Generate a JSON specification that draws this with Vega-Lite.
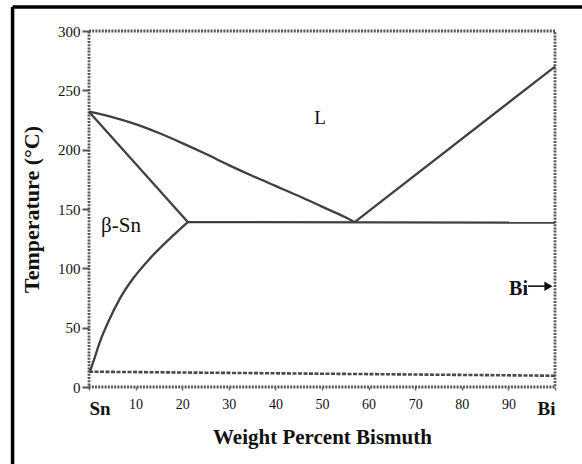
{
  "$schema": "https://vega.github.io/schema/vega-lite/v6.json",
  "width": 466,
  "height": 356,
  "autosize": {"type": "none"},
  "padding": {"left": 89, "top": 31, "right": 27, "bottom": 77},
  "background": "white",
  "config": {
    "view": {"stroke": "#555555", "strokeWidth": 2.8, "strokeDash": [2, 1.2]},
    "font": "Liberation Serif"
  },
  "datasets": {
    "curves": [
      {"series": "liquidus_left", "i": 0, "wt": 0, "T": 232},
      {"series": "liquidus_left", "i": 1, "wt": 5, "T": 227.5},
      {"series": "liquidus_left", "i": 2, "wt": 10, "T": 221.5},
      {"series": "liquidus_left", "i": 3, "wt": 15, "T": 214},
      {"series": "liquidus_left", "i": 4, "wt": 20, "T": 205.5},
      {"series": "liquidus_left", "i": 5, "wt": 25, "T": 196.5},
      {"series": "liquidus_left", "i": 6, "wt": 30, "T": 187},
      {"series": "liquidus_left", "i": 7, "wt": 35, "T": 178},
      {"series": "liquidus_left", "i": 8, "wt": 40, "T": 169.5},
      {"series": "liquidus_left", "i": 9, "wt": 45, "T": 161},
      {"series": "liquidus_left", "i": 10, "wt": 50, "T": 152},
      {"series": "liquidus_left", "i": 11, "wt": 55, "T": 143},
      {"series": "liquidus_left", "i": 12, "wt": 57, "T": 139},
      {"series": "liquidus_right", "i": 0, "wt": 57, "T": 139},
      {"series": "liquidus_right", "i": 1, "wt": 100, "T": 270},
      {"series": "solidus", "i": 0, "wt": 0, "T": 232},
      {"series": "solidus", "i": 1, "wt": 21.2, "T": 139},
      {"series": "eutectic", "i": 0, "wt": 21.2, "T": 139},
      {"series": "eutectic", "i": 1, "wt": 100, "T": 138.5},
      {"series": "solvus", "i": 0, "wt": 0.2, "T": 12.9},
      {"series": "solvus", "i": 1, "wt": 0.93, "T": 21.3},
      {"series": "solvus", "i": 2, "wt": 2.36, "T": 38.2},
      {"series": "solvus", "i": 3, "wt": 4.15, "T": 55},
      {"series": "solvus", "i": 4, "wt": 6.65, "T": 74.7},
      {"series": "solvus", "i": 5, "wt": 9.5, "T": 91.6},
      {"series": "solvus", "i": 6, "wt": 13.1, "T": 108.4},
      {"series": "solvus", "i": 7, "wt": 17.4, "T": 125.3},
      {"series": "solvus", "i": 8, "wt": 21.2, "T": 139}
    ],
    "dashed": [
      {"wt": 0, "T": 12.9},
      {"wt": 100, "T": 9.5}
    ],
    "labels": [
      {"wt": 49.6, "T": 226.6, "text": "L", "pos": "center"},
      {"wt": 2.6, "T": 135.6, "text": "β-Sn", "pos": "left"},
      {"wt": 94.2, "T": 83, "text": "Bi", "pos": "right"}
    ],
    "arrow": [
      {"wt": 94.2, "wt2": 98.6, "T": 85}
    ],
    "arrowhead": [
      {"wt": 98.6, "T": 85}
    ],
    "frame": [
      {"wt": -16.4, "wt2": -16.4, "T": 320.2, "T2": -80},
      {"wt": -16.4, "wt2": 112, "T": 320.2, "T2": 320.2}
    ]
  },
  "encoding": {
    "x": {
      "field": "wt", "type": "quantitative",
      "scale": {"domain": [0, 100], "nice": false, "zero": false},
      "axis": {
        "title": "Weight Percent Bismuth",
        "values": [0, 10, 20, 30, 40, 50, 60, 70, 80, 90, 100],
        "labelExpr": "datum.value == 0 ? 'Sn' : datum.value == 100 ? 'Bi' : datum.label",
        "domain": false, "grid": false,
        "tickSize": 3, "tickWidth": 1.5, "tickColor": "#666",
        "labelPadding": {"condition": {"test": "datum.value == 0 || datum.value == 100", "value": 9}, "value": 7},
        "labelFont": "Liberation Serif",
        "labelFontSize": {"condition": {"test": "datum.value == 0 || datum.value == 100", "value": 19}, "value": 14},
        "labelFontWeight": {"condition": {"test": "datum.value == 0 || datum.value == 100", "value": "bold"}, "value": "normal"},
        "labelColor": "#111",
        "titleFont": "Liberation Serif", "titleFontSize": 21, "titleFontWeight": "bold",
        "titleColor": "#111", "titlePadding": 8
      }
    },
    "y": {
      "field": "T", "type": "quantitative",
      "scale": {"domain": [0, 300], "nice": false, "zero": false},
      "axis": {
        "title": "Temperature (°C)",
        "values": [0, 50, 100, 150, 200, 250, 300],
        "domain": false, "grid": false,
        "tickSize": 7, "tickWidth": 2, "tickColor": "#555",
        "labelPadding": 2,
        "labelFont": "Liberation Serif", "labelFontSize": 15, "labelColor": "#111",
        "titleFont": "Liberation Serif", "titleFontSize": 22, "titleFontWeight": "bold",
        "titleColor": "#111", "titlePadding": 14
      }
    }
  },
  "layer": [
    {
      "data": {"name": "curves"},
      "mark": {"type": "line", "color": "#404040", "strokeWidth": 2.3, "interpolate": "monotone"},
      "encoding": {
        "detail": {"field": "series"},
        "order": {"field": "i", "type": "quantitative"}
      }
    },
    {
      "data": {"name": "dashed"},
      "mark": {"type": "line", "color": "#4a4a4a", "strokeWidth": 2.6, "strokeDash": [4, 1.5]},
      "encoding": {}
    },
    {
      "data": {"name": "labels"},
      "transform": [{"filter": "datum.pos == 'center'"}],
      "mark": {"type": "text", "font": "Liberation Serif", "fontSize": 19, "color": "#111", "baseline": "middle", "align": "center"},
      "encoding": {"text": {"field": "text"}}
    },
    {
      "data": {"name": "labels"},
      "transform": [{"filter": "datum.pos == 'left'"}],
      "mark": {"type": "text", "font": "Liberation Serif", "fontSize": 21, "color": "#111", "baseline": "middle", "align": "left"},
      "encoding": {"text": {"field": "text"}}
    },
    {
      "data": {"name": "labels"},
      "transform": [{"filter": "datum.pos == 'right'"}],
      "mark": {"type": "text", "font": "Liberation Serif", "fontSize": 20, "fontWeight": "bold", "color": "#111", "baseline": "middle", "align": "right"},
      "encoding": {"text": {"field": "text"}}
    },
    {
      "data": {"name": "arrow"},
      "mark": {"type": "rule", "color": "#111", "strokeWidth": 1.6},
      "encoding": {"x2": {"field": "wt2"}}
    },
    {
      "data": {"name": "arrowhead"},
      "mark": {"type": "point", "shape": "triangle-right", "filled": true, "color": "#111", "size": 90, "opacity": 1},
      "encoding": {}
    },
    {
      "data": {"name": "frame"},
      "mark": {"type": "rule", "color": "#000", "strokeWidth": 3.5, "clip": false},
      "encoding": {
        "x2": {"field": "wt2"},
        "y2": {"field": "T2"}
      }
    }
  ]
}
